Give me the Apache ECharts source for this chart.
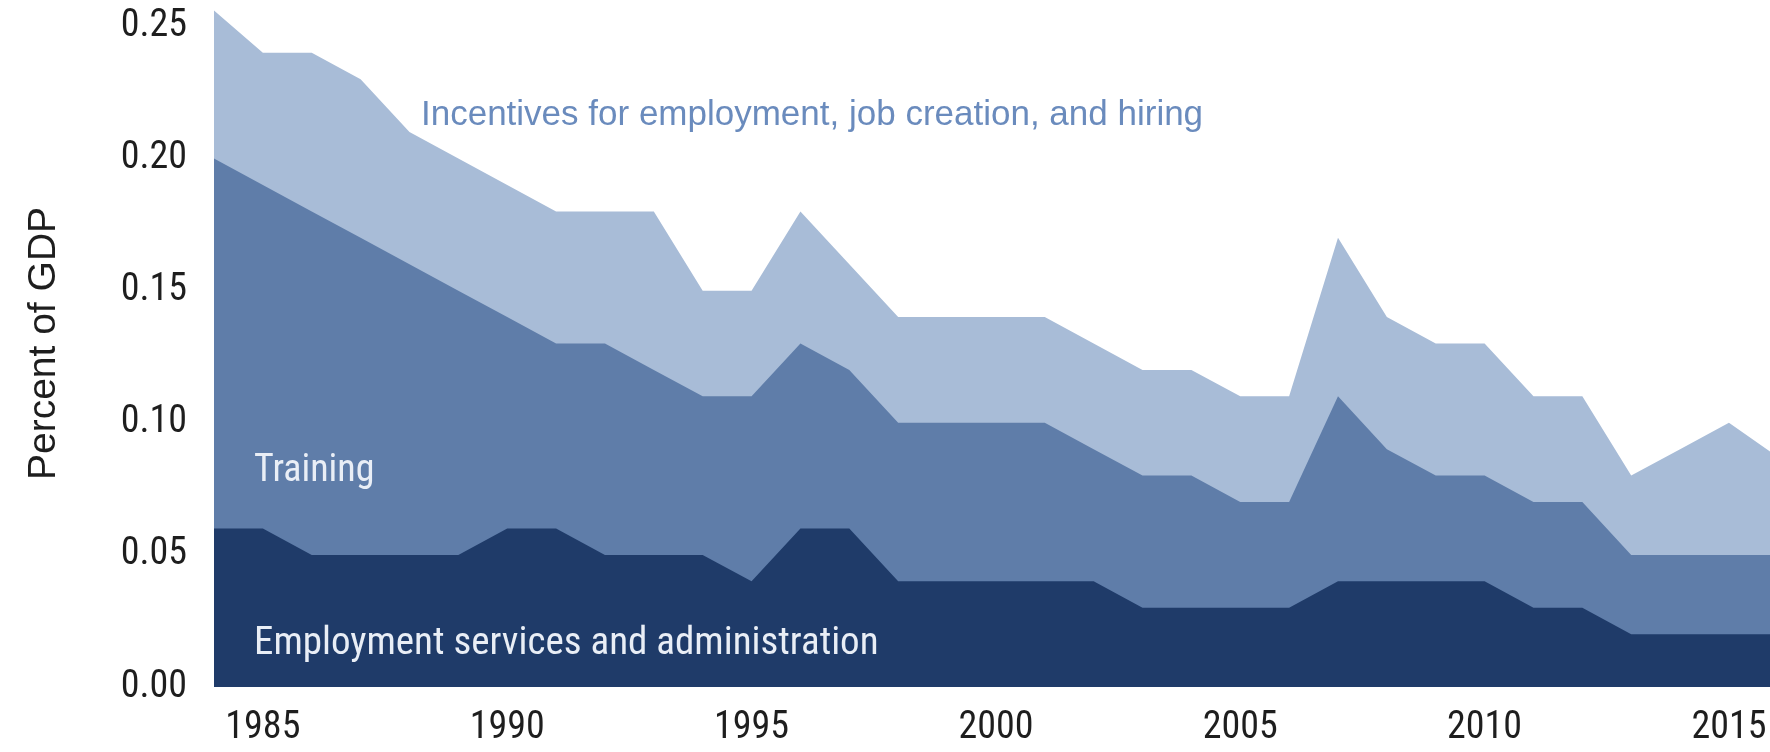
<!DOCTYPE html>
<html>
<head>
<meta charset="utf-8">
<title>Spending on active labour market programs</title>
<script src="https://cdn.jsdelivr.net/npm/echarts@6/dist/echarts.min.js"></script>
<style>
  html, body { margin: 0; padding: 0; background: #fff; }
  #chart { width: 1770px; height: 752px; }
</style>
</head>
<body>
<div id="chart"></div>
<script>
// years on the x axis (the last one runs past the right edge of the picture)
const years = [1984, 1985, 1986, 1987, 1988, 1989, 1990, 1991, 1992, 1993, 1994,
  1995, 1996, 1997, 1998, 1999, 2000, 2001, 2002, 2003, 2004, 2005, 2006, 2007,
  2008, 2009, 2010, 2011, 2012, 2013, 2014, 2015, 2016]

// percent of GDP per year, bottom layer first
const servicesAdmin = [0.06, 0.06, 0.05, 0.05, 0.05, 0.05, 0.06, 0.06, 0.05, 0.05, 0.05,
  0.04, 0.06, 0.06, 0.04, 0.04, 0.04, 0.04, 0.04, 0.03, 0.03, 0.03, 0.03, 0.04,
  0.04, 0.04, 0.04, 0.03, 0.03, 0.02, 0.02, 0.02, 0.02]
const training = [0.14, 0.13, 0.13, 0.12, 0.11, 0.10, 0.08, 0.07, 0.08, 0.07, 0.06,
  0.07, 0.07, 0.06, 0.06, 0.06, 0.06, 0.06, 0.05, 0.05, 0.05, 0.04, 0.04, 0.07,
  0.05, 0.04, 0.04, 0.04, 0.04, 0.03, 0.03, 0.03, 0.03]
const incentives = [0.056, 0.05, 0.06, 0.06, 0.05, 0.05, 0.05, 0.05, 0.05, 0.06, 0.04,
  0.04, 0.05, 0.04, 0.04, 0.04, 0.04, 0.04, 0.04, 0.04, 0.04, 0.04, 0.04, 0.06,
  0.05, 0.05, 0.05, 0.04, 0.04, 0.03, 0.04, 0.05, 0.037]

// tick labels
const xTicks = [1985, 1990, 1995, 2000, 2005, 2010, 2015]
const yTicks = [0, 0.05, 0.10, 0.15, 0.20, 0.25]

// running totals, so every layer is filled down to zero and drawn top layer first
const layers = [servicesAdmin, training, incentives]
const cumulative = layers.map((arr, k) =>
  years.map((y, i) => [y, +layers.slice(0, k + 1).reduce((s, a) => s + a[i], 0).toFixed(4)]))

function areaSeries(name, data, color) {
  return {
    name: name,
    type: 'line',
    data: data,
    symbol: 'none',
    lineStyle: { width: 0 },
    areaStyle: { color: color, opacity: 1 },
    itemStyle: { color: color },
    silent: true
  }
}

const tickFont = {
  fontFamily: 'Roboto Condensed',
  fontSize: 38,
  color: '#1e1e1e'
}

const chart = echarts.init(document.getElementById('chart'))

chart.setOption({
  animation: false,
  grid: { left: 214, right: 0, top: 0, bottom: 65 },
  xAxis: {
    type: 'value',
    min: 1984,
    max: 2015.84,
    axisLine: { show: false },
    axisTick: { show: false },
    splitLine: { show: false },
    axisLabel: Object.assign({
      customValues: xTicks,
      margin: 22,
      formatter: v => String(v)
    }, tickFont)
  },
  yAxis: {
    type: 'value',
    min: 0,
    max: 0.26,
    name: 'Percent of GDP',
    nameLocation: 'middle',
    nameGap: 150,
    nameTextStyle: {
      fontFamily: 'Liberation Sans',
      fontSize: 39,
      color: '#1e1e1e'
    },
    axisLine: { show: false },
    axisTick: { show: false },
    splitLine: { show: false },
    axisLabel: Object.assign({
      customValues: yTicks,
      margin: 27,
      formatter: v => v.toFixed(2)
    }, tickFont)
  },
  series: [
    areaSeries('Incentives for employment, job creation, and hiring', cumulative[2], '#a8bcd7'),
    areaSeries('Training', cumulative[1], '#5f7da9'),
    areaSeries('Employment services and administration', cumulative[0], '#1f3b69')
  ],
  graphic: [
    {
      type: 'text', left: 421, top: 98, z: 100,
      style: { text: 'Incentives for employment, job creation, and hiring', fill: '#6a8bbd',
        font: '35px "Liberation Sans"' }
    },
    {
      type: 'text', left: 254, top: 452, z: 100,
      style: { text: 'Training', fill: '#e9eef6', font: '38px "Roboto Condensed"' }
    },
    {
      type: 'text', left: 254, top: 625, z: 100,
      style: { text: 'Employment services and administration', fill: '#e9eef6',
        font: '39px "Roboto Condensed"' }
    }
  ]
})
</script>
</body>
</html>
